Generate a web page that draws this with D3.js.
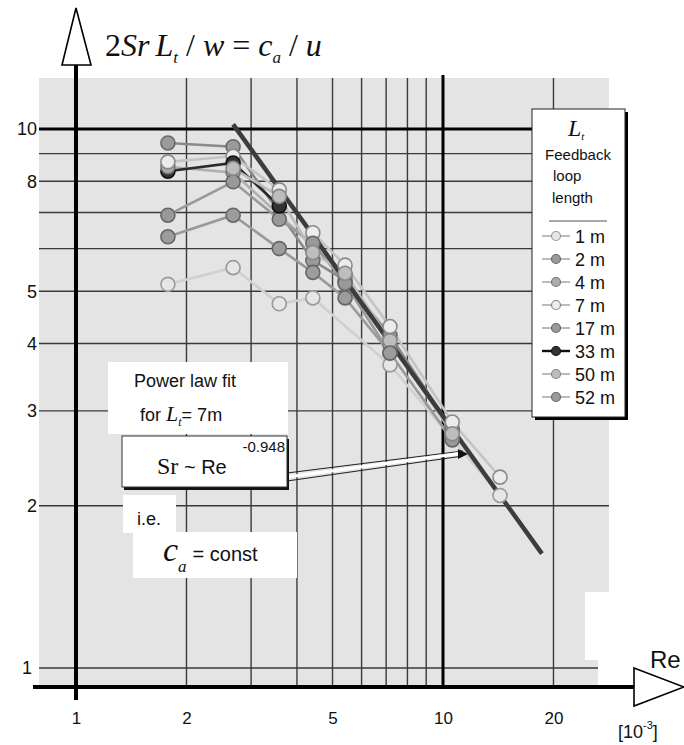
<!DOCTYPE html>
<html>
<head>
<meta charset="utf-8">
<script src="https://cdn.jsdelivr.net/npm/d3@7"></script>
<style>
  body { margin: 0; background: #fff; }
  svg { display: block; }
  text { font-family: "Liberation Sans", Arial, sans-serif; fill: #111; }
  .serif { font-family: "Liberation Serif", "Times New Roman", serif; }
</style>
</head>
<body>
<svg id="chart" width="684" height="745"></svg>
<script>
// Re columns (x 10^-3) where the measurements were taken
const reValues = [1.78, 2.68, 3.58, 4.42, 5.41, 7.17, 10.6, 14.3];

// 2SrLt/w values for each loop length, null = no point
const sr1m  = [5.15, 5.53, 4.74, 4.86, null, 3.65, null, 2.09];
const sr2m  = [9.42, 9.27, null, 5.70, 5.24, 4.14, 2.77, null];
const sr4m  = [8.51, 8.30, null, null, 5.35, 3.97, null, null];
const sr7m  = [8.69, 8.90, 7.71, 6.42, 5.59, 4.30, 2.86, 2.26];
const sr17m = [6.92, 7.98, 6.80, 6.14, 5.17, 3.84, 2.65, null];
const sr33m = [8.35, 8.65, 7.20, null, null, null, null, null];
const sr50m = [null, 8.45, 7.50, 5.90, 5.40, 4.05, 2.72, null];
const sr52m = [6.31, 6.92, 6.00, 5.42, 4.86, 3.84, null, null];

const seriesNames = ["1 m", "2 m", "4 m", "7 m", "17 m", "33 m", "50 m", "52 m"];
const seriesValues = [sr1m, sr2m, sr4m, sr7m, sr17m, sr33m, sr50m, sr52m];
const seriesFill   = ["#e6e6e6", "#9a9a9a", "#acacac", "#ececec", "#999", "#333", "#bdbdbd", "#9c9c9c"];
const seriesStroke = ["#9a9a9a", "#6a6a6a", "#777", "#8a8a8a", "#666", "#111", "#888", "#666"];
const seriesLine   = ["#d0d0d0", "#8a8a8a", "#b0b0b0", "#c4c4c4", "#9a9a9a", "#2a2a2a", "#bcbcbc", "#999"];

// power law fit Sr ~ Re^-0.948 (end points)
const fitLine = [{re: 2.68, sr: 10.2}, {re: 18.6, sr: 1.63}];

const gridX = [2, 3, 4, 5, 6, 7, 8, 9, 20];
const gridY = [2, 3, 4, 5, 6, 7, 8, 9, 1];
const xTicks = [1, 2, 5, 10, 20];
const yTicks = [1, 2, 3, 4, 5, 8, 10];

const svg = d3.select("#chart");

const x = d3.scaleLog().domain([1, 10]).range([76, 443]);
const y = d3.scaleLog().domain([1, 10]).range([668, 129]);

const plotTop = 78, plotBottom = 687, plotLeft = 39, plotRight = 609;

// gray plot background
svg.append("path")
  .attr("d", `M${plotLeft},${plotTop}H${plotRight}V592H585V660H598V${plotBottom}H${plotLeft}Z`)
  .attr("fill", "#e4e4e4");

// grid lines
svg.append("g").selectAll("line")
  .data(gridX).enter().append("line")
    .attr("x1", d => x(d)).attr("x2", d => x(d))
    .attr("y1", plotTop).attr("y2", plotBottom)
    .attr("stroke", "#3a3a3a").attr("stroke-width", 1.4);

svg.append("g").selectAll("line")
  .data(gridY).enter().append("line")
    .attr("x1", plotLeft).attr("x2", d => d == 1 ? 598 : plotRight)
    .attr("y1", d => y(d)).attr("y2", d => y(d))
    .attr("stroke", "#3a3a3a").attr("stroke-width", 1.4);

// the decade lines are heavier
svg.append("line")
  .attr("x1", x(10)).attr("x2", x(10)).attr("y1", plotTop - 3).attr("y2", plotBottom)
  .attr("stroke", "#000").attr("stroke-width", 3);
svg.append("line")
  .attr("x1", plotLeft).attr("x2", 560).attr("y1", y(10)).attr("y2", y(10))
  .attr("stroke", "#000").attr("stroke-width", 3);

// axes with open arrow heads
svg.append("line")
  .attr("x1", 33).attr("x2", 634).attr("y1", plotBottom).attr("y2", plotBottom)
  .attr("stroke", "#000").attr("stroke-width", 4);
svg.append("polygon")
  .attr("points", "634,668 684,687 634,706")
  .attr("fill", "#fff").attr("stroke", "#000").attr("stroke-width", 1.6);
svg.append("line")
  .attr("x1", x(1)).attr("x2", x(1)).attr("y1", 64).attr("y2", 700)
  .attr("stroke", "#000").attr("stroke-width", 4);
svg.append("polygon")
  .attr("points", "76,8 62,65 91,65")
  .attr("fill", "#fff").attr("stroke", "#000").attr("stroke-width", 1.6);

// tick labels
const xAxis = svg.append("g")
  .attr("transform", `translate(0,${plotBottom})`)
  .call(d3.axisBottom(x).tickValues(xTicks).tickSize(0).tickPadding(25).tickFormat(d3.format("d")));
xAxis.select(".domain").remove();
xAxis.selectAll("text").attr("font-size", 17).attr("fill", "#111")
  .style("font-family", "Liberation Sans, Arial, sans-serif");

const yAxis = svg.append("g")
  .attr("transform", "translate(37,0)")
  .call(d3.axisLeft(y).tickValues(yTicks).tickSize(0).tickPadding(0).tickFormat(d3.format("d")));
yAxis.select(".domain").remove();
yAxis.selectAll("text").attr("font-size", 18).attr("fill", "#111")
  .style("font-family", "Liberation Sans, Arial, sans-serif");
yAxis.selectAll(".tick").filter(d => d == 1).select("text").attr("x", -5);

// series lines and markers
const line = d3.line()
  .x(d => x(d.re))
  .y(d => y(d.sr));

const series = seriesNames.map((name, i) => ({
  name: name,
  fill: seriesFill[i],
  stroke: seriesStroke[i],
  lineColor: seriesLine[i],
  points: reValues.map((re, j) => ({re: re, sr: seriesValues[i][j], col: j})).filter(p => p.sr != null)
}));

svg.append("g").selectAll("path")
  .data(series).enter().append("path")
    .attr("d", d => line(d.points))
    .attr("fill", "none")
    .attr("stroke", d => d.lineColor)
    .attr("stroke-width", 2.6);

// fit line
svg.append("path")
  .attr("d", line(fitLine))
  .attr("fill", "none").attr("stroke", "#3c3c3c").attr("stroke-width", 4.5);

// markers: in the first column the dark 33 m point sits behind the others
const markers = [];
series.forEach(s => s.points.forEach(p => markers.push({s: s, p: p})));
markers.sort((a, b) => {
  const ka = (a.s.name == "33 m" && a.p.col == 0) ? 0 : 1;
  const kb = (b.s.name == "33 m" && b.p.col == 0) ? 0 : 1;
  return ka - kb;
});
svg.append("g").selectAll("circle")
  .data(markers).enter().append("circle")
    .attr("cx", d => x(d.p.re)).attr("cy", d => y(d.p.sr))
    .attr("r", 7)
    .attr("fill", d => d.s.fill).attr("stroke", d => d.s.stroke).attr("stroke-width", 1.6);

// y axis title
const title = svg.append("text").attr("class", "serif")
  .attr("x", 105).attr("y", 56)
  .attr("font-size", 32).attr("font-style", "italic");
title.append("tspan").attr("font-style", "normal").text("2");
title.append("tspan").text("Sr");
title.append("tspan").attr("dx", 6).text("L");
title.append("tspan").attr("font-size", 17).attr("dy", 7).text("t");
title.append("tspan").attr("dy", -7).attr("font-style", "normal").text(" / ");
title.append("tspan").text("w");
title.append("tspan").attr("font-style", "normal").text(" = ");
title.append("tspan").text("c");
title.append("tspan").attr("font-size", 17).attr("dy", 7).text("a");
title.append("tspan").attr("dy", -7).attr("font-style", "normal").text(" / ");
title.append("tspan").text("u");

svg.append("text").attr("x", 650).attr("y", 668).attr("font-size", 24).text("Re");
const unit = svg.append("text").attr("x", 618).attr("y", 738).attr("font-size", 18);
unit.append("tspan").text("[10");
unit.append("tspan").attr("font-size", 11).attr("dy", -9).text("-3");
unit.append("tspan").attr("dy", 9).text("]");

// legend
const lg = svg.append("g");
lg.append("rect").attr("x", 535).attr("y", 112).attr("width", 93).attr("height", 308).attr("fill", "#000");
lg.append("rect").attr("x", 532).attr("y", 109).attr("width", 93).attr("height", 308)
  .attr("fill", "#fff").attr("stroke", "#222").attr("stroke-width", 1);
const lt = lg.append("text").attr("class", "serif").attr("x", 568).attr("y", 136)
  .attr("font-size", 24).attr("font-style", "italic");
lt.append("tspan").text("L");
lt.append("tspan").attr("font-size", 11).attr("dy", 4).text("t");
lg.append("text").attr("x", 578).attr("y", 160).attr("text-anchor", "middle").attr("font-size", 15).text("Feedback");
lg.append("text").attr("x", 553).attr("y", 181).attr("font-size", 15).text("loop");
lg.append("text").attr("x", 552).attr("y", 203).attr("font-size", 15).text("length");
lg.append("line").attr("x1", 549).attr("x2", 607).attr("y1", 221).attr("y2", 221)
  .attr("stroke", "#555").attr("stroke-width", 1.2);

const legendY = d3.scalePoint().domain(seriesNames).range([236, 397]);
const item = lg.selectAll("g.item").data(series).enter().append("g")
  .attr("transform", d => `translate(0,${legendY(d.name)})`);
item.append("line").attr("x1", 542).attr("x2", 570)
  .attr("stroke", d => d.name == "33 m" ? "#111" : "#aaa").attr("stroke-width", d => d.name == "33 m" ? 2.4 : 1.6);
item.append("circle").attr("cx", 556).attr("r", 4.5)
  .attr("fill", d => d.fill).attr("stroke", d => d.stroke).attr("stroke-width", 1.2);
item.append("text").attr("x", 575).attr("y", 7).attr("font-size", 18).text(d => d.name);

// annotation boxes
const ann = svg.append("g");
ann.append("rect").attr("x", 108).attr("y", 362).attr("width", 180).attr("height", 72).attr("fill", "#fff");
ann.append("text").attr("x", 134).attr("y", 387).attr("font-size", 18).text("Power law fit");
const forT = ann.append("text").attr("x", 140).attr("y", 421).attr("font-size", 18);
forT.append("tspan").text("for ");
forT.append("tspan").attr("class", "serif").attr("font-style", "italic").attr("font-size", 22).text("L");
forT.append("tspan").attr("class", "serif").attr("font-style", "italic").attr("font-size", 12).attr("dy", 5).text("t");
forT.append("tspan").attr("dy", -5).text("= 7m");

// arrow from the formula box to the fit line
ann.append("path").attr("d", "M287,473L463,451M287,481L463,456")
  .attr("stroke", "#222").attr("stroke-width", 1.2).attr("fill", "none");
ann.append("path").attr("d", "M287,477L463,453").attr("stroke", "#fff").attr("stroke-width", 3);
ann.append("polygon").attr("points", "458,449 468,454 458,459").attr("fill", "#111");

ann.append("rect").attr("x", 124).attr("y", 439).attr("width", 165).attr("height", 51).attr("fill", "#111");
ann.append("rect").attr("x", 122).attr("y", 436).attr("width", 165).attr("height", 51)
  .attr("fill", "#fff").attr("stroke", "#333").attr("stroke-width", 1);
const sr = ann.append("text").attr("x", 157).attr("y", 474).attr("font-size", 24);
sr.append("tspan").attr("class", "serif").text("Sr");
sr.append("tspan").attr("font-size", 20).text(" ~ Re");
ann.append("text").attr("x", 285).attr("y", 452).attr("text-anchor", "end").attr("font-size", 15).text("-0.948");

ann.append("rect").attr("x", 123).attr("y", 495).attr("width", 53).attr("height", 38).attr("fill", "#fff");
ann.append("text").attr("x", 137).attr("y", 525).attr("font-size", 18).text("i.e.");

ann.append("rect").attr("x", 133).attr("y", 532).attr("width", 164).attr("height", 46).attr("fill", "#fff");
const ca = ann.append("text").attr("x", 163).attr("y", 561).attr("font-size", 20);
ca.append("tspan").attr("class", "serif").attr("font-style", "italic").attr("font-size", 34).text("c");
ca.append("tspan").attr("class", "serif").attr("font-style", "italic").attr("font-size", 17).attr("dy", 11).text("a");
ca.append("tspan").attr("dy", -11).attr("dx", 6).text("= const");
</script>
</body>
</html>
